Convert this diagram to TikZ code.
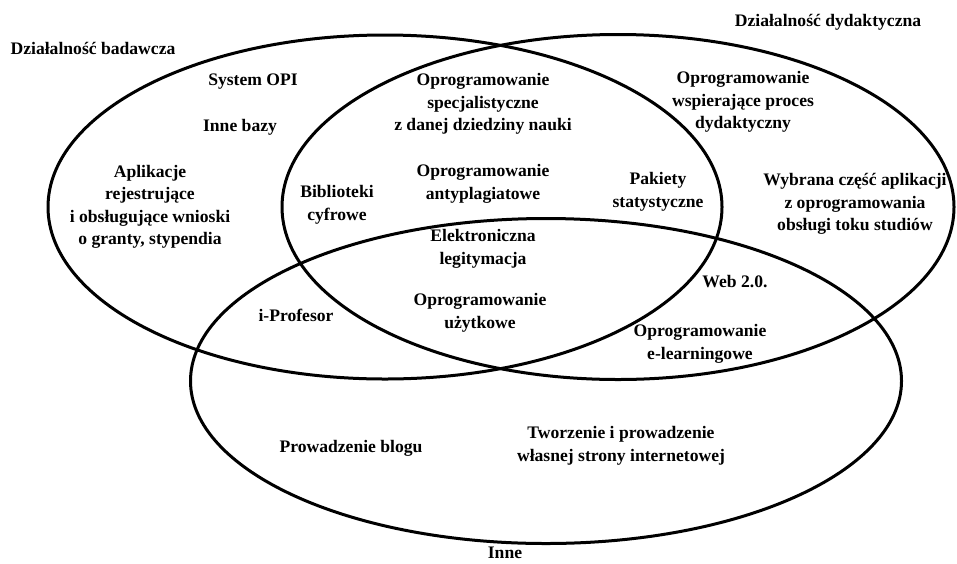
\documentclass[tikz,border=0pt]{standalone}
\usepackage{fontspec}
\setmainfont{Liberation Serif}
\usepackage{tikz}
\usetikzlibrary{shapes.geometric}

\begin{document}
\begin{tikzpicture}[x=1pt,y=-1pt,
  set/.style n args={2}{draw,ellipse,line width=3pt,inner sep=0pt,minimum width=#1pt,minimum height=#2pt},
  txt/.style={align=center,inner sep=0pt,font=\fontsize{17.6}{22.5}\selectfont\bfseries}]
\useasboundingbox (0,0) rectangle (957,563);
% the three sets
\node[set={674}{344}] (badawcza) at (385,207) {};
\node[set={672}{345}] (dydaktyczna) at (618,207) {};
\node[set={711}{325}] (inne) at (546,381) {};
% set names
\node[txt] (nbad) at (93,48) {Działalność badawcza};
\node[txt] (ndyd) at (828,22) {Działalność dydaktyczna};
\node[txt] (ninne) at (505,553) {Inne};
% badawcza only
\node[txt] (opi) at (253,82) {System OPI};
\node[txt] (bazy) at (240,127) {Inne bazy};
\node[txt] (aplik) at (150,207) {Aplikacje\\rejestrujące\\i obsługujące wnioski\\o granty, stypendia};
% badawcza and dydaktyczna
\node[txt] (biblio) at (337,205) {Biblioteki\\cyfrowe};
\node[txt] (specj) at (483,104) {Oprogramowanie\\specjalistyczne\\z danej dziedziny nauki};
\node[txt] (plagiat) at (483,184) {Oprogramowanie\\antyplagiatowe};
\node[txt] (pakiety) at (658,192) {Pakiety\\statystyczne};
% dydaktyczna only
\node[txt] (wspier) at (743,102) {Oprogramowanie\\wspierające proces\\dydaktyczny};
\node[txt] (toku) at (855,204) {Wybrana część aplikacji\\z oprogramowania\\obsługi toku studiów};
% all three
\node[txt] (legit) at (483,249) {Elektroniczna\\legitymacja};
\node[txt] (uzytk) at (480,313) {Oprogramowanie\\użytkowe};
% the rest
\node[txt] (web) at (735,282) {Web 2.0.};
\node[txt] (prof) at (296,315) {i-Profesor};
\node[txt] (elearn) at (700,344) {Oprogramowanie\\e-learningowe};
\node[txt] (blog) at (351,448) {Prowadzenie blogu};
\node[txt] (strona) at (621,446) {Tworzenie i prowadzenie\\własnej strony internetowej};
\end{tikzpicture}
\end{document}
